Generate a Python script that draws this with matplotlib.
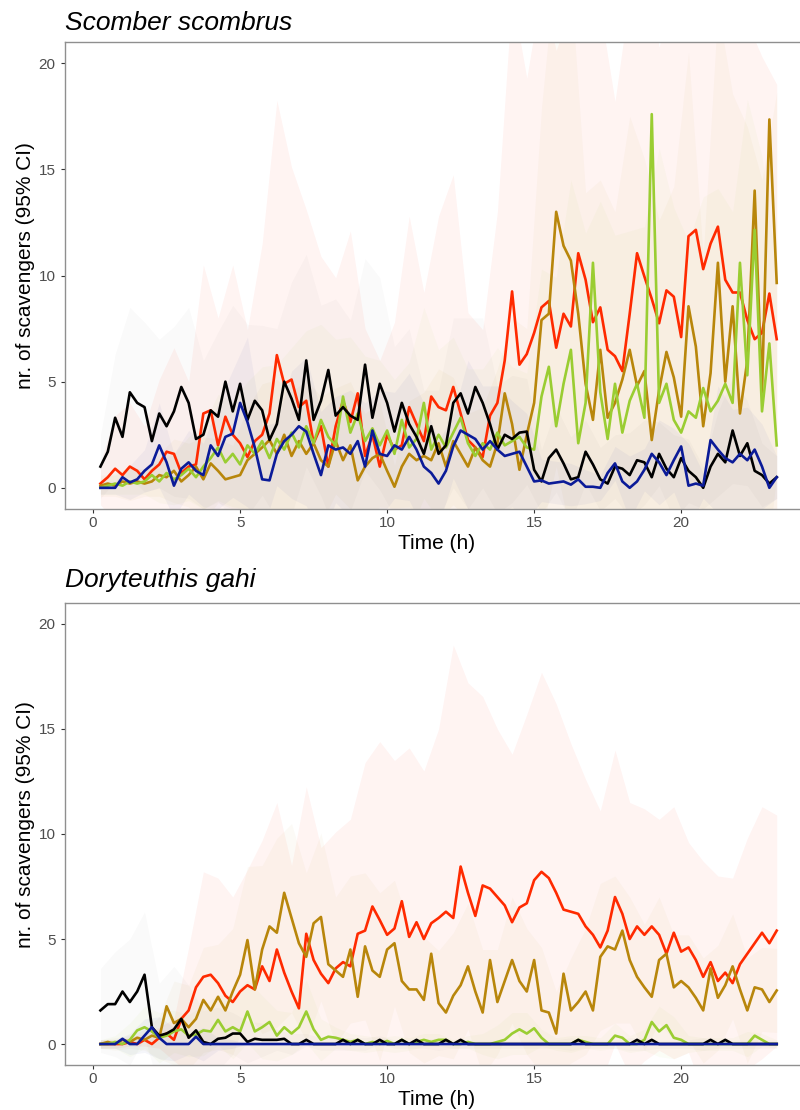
import numpy as np
import matplotlib
matplotlib.use("Agg")
import matplotlib.pyplot as plt

plt.rcParams['font.family'] = ['Liberation Sans', 'DejaVu Sans']

# sampling times (h), every 15 min
hours = np.arange(0.25, 23.3, 0.25)

# ---- Scomber scombrus: mean number of scavengers per group ----
mack_red = [0.2, 0.5, 0.9, 0.6, 1.0, 0.8, 0.4, 0.8,
            1.1, 1.7, 1.6, 0.7, 1.0, 1.1, 3.5, 3.65,
            2.0, 3.35, 2.5, 2.1, 1.45, 2.2, 2.5, 3.5,
            6.25, 4.9, 5.1, 3.8, 4.1, 2.1, 2.9, 1.0,
            2.9, 4.1, 3.1, 4.45, 1.5, 2.5, 1.0, 2.5,
            1.8, 2.0, 3.8, 3.0, 2.2, 4.3, 3.8, 3.65,
            4.75, 3.5, 2.25, 1.9, 1.45, 3.4, 4.0, 6.0,
            9.25, 5.8, 6.3, 7.3, 8.5, 8.8, 6.6, 8.2,
            7.6, 11.05, 9.8, 7.8, 8.5, 6.5, 6.2, 5.5,
            8.2, 11.05, 9.95, 8.9, 7.75, 9.3, 9.0, 7.1,
            11.85, 12.15, 10.3, 11.5, 12.3, 9.8, 9.2, 9.2,
            7.9, 7.0, 7.3, 9.15, 7.0]
mack_gold = [0.1, 0.2, 0.1, 0.3, 0.2, 0.3, 0.2, 0.3,
             0.6, 0.5, 0.8, 0.3, 0.6, 1.0, 0.4, 1.15,
             0.8, 0.4, 0.5, 0.6, 1.3, 1.6, 1.9, 2.25,
             1.6, 2.5, 1.5, 2.2, 1.6, 2.1, 1.3, 1.0,
             2.2, 1.3, 2.0, 0.35, 1.0, 1.4, 1.6, 0.8,
             0.05, 1.0, 1.6, 1.3, 1.5, 1.3, 2.1, 1.0,
             2.2, 1.6, 1.0, 1.9, 1.3, 1.0, 2.1, 4.45,
             3.0, 0.85, 2.5, 4.0, 7.9, 8.2, 13.0, 11.4,
             10.7, 8.2, 4.9, 3.2, 6.5, 3.3, 4.0, 5.1,
             6.5, 4.8, 5.5, 2.25, 4.6, 6.4, 5.2, 3.35,
             8.55, 6.65, 2.9, 5.4, 10.6, 5.0, 8.55, 3.5,
             6.0, 14.0, 4.5, 17.35, 9.65]
mack_green = [0.0, 0.1, 0.2, 0.1, 0.3, 0.2, 0.3, 0.6,
              0.3, 0.7, 0.4, 0.6, 0.9, 0.5, 1.0, 1.4,
              1.9, 1.2, 1.6, 1.1, 2.0, 1.6, 2.2, 1.4,
              2.3, 1.8, 2.6, 1.9, 2.9, 2.1, 3.2, 2.4,
              2.0, 4.3, 2.6, 3.5, 2.2, 2.8, 2.0, 2.7,
              1.6, 3.2, 1.9, 2.3, 4.0, 1.8, 2.5, 1.9,
              2.6, 3.3, 2.1, 1.5, 2.1, 1.8, 2.6, 2.0,
              2.2, 2.4, 1.9, 1.8, 4.3, 5.7, 2.9, 4.9,
              6.5, 2.1, 4.0, 10.6, 4.5, 2.3, 4.9, 2.6,
              4.1, 4.9, 3.3, 17.6, 4.0, 4.9, 3.2, 2.6,
              3.6, 3.3, 4.7, 3.6, 4.1, 4.9, 4.0, 10.6,
              5.3, 12.15, 3.6, 6.8, 2.0]
mack_black = [1.0, 1.7, 3.3, 2.4, 4.5, 4.0, 3.8, 2.2,
              3.5, 2.9, 3.6, 4.75, 4.0, 2.3, 2.5, 3.65,
              3.35, 5.0, 3.6, 4.9, 3.2, 4.1, 3.65, 2.25,
              3.0, 5.0, 4.2, 3.2, 6.0, 3.2, 4.1, 5.55,
              3.4, 3.8, 3.4, 3.2, 5.8, 3.3, 4.9, 4.0,
              2.65, 4.0, 3.0, 2.4, 1.6, 2.9, 1.6, 2.0,
              4.0, 4.45, 3.5, 4.75, 4.0, 3.0, 1.8, 2.5,
              2.3, 2.6, 2.65, 0.85, 0.3, 1.4, 1.8, 1.15,
              0.4, 0.5, 1.7, 1.1, 0.4, 0.2, 1.0, 0.9,
              0.6, 1.3, 1.2, 0.5, 1.6, 0.9, 0.5, 1.4,
              0.8, 0.5, 0.0, 1.0, 1.6, 1.2, 2.7, 1.5,
              2.1, 0.8, 0.6, 0.2, 0.5]
mack_blue = [0.0, 0.0, 0.0, 0.5, 0.25, 0.4, 0.8, 1.1,
             2.0, 1.2, 0.1, 0.9, 1.2, 0.8, 0.6, 2.0,
             1.5, 2.4, 2.55, 4.0, 3.1, 1.9, 0.4, 0.35,
             1.6, 2.2, 2.5, 2.9, 2.65, 1.6, 0.6, 2.0,
             1.8, 1.9, 1.6, 2.2, 1.0, 2.7, 1.6, 1.5,
             2.0, 1.8, 2.4, 1.8, 1.0, 0.7, 0.2, 0.8,
             1.95, 2.7, 2.5, 2.3, 1.8, 2.2, 1.8, 1.5,
             1.6, 1.7, 1.0, 0.3, 0.35, 0.2, 0.25, 0.3,
             0.15, 0.4, 0.05, 0.05, 0.0, 0.7, 1.15, 0.3,
             0.0, 0.3, 0.85, 1.6, 1.2, 0.6, 1.3, 1.95,
             0.1, 0.2, 0.1, 2.25, 1.8, 1.4, 1.2, 1.6,
             1.3, 1.8, 1.0, 0.0, 0.5]

# 95% CI half widths, every 30 min
mack_red_ci = [1.0, 2.5, 3.0, 2.5, 4.0, 5.0, 4.0, 7.0,
               6.0, 8.0, 6.0, 9.0, 12.0, 10.0, 9.0, 8.0,
               7.0, 9.0, 6.0, 5.0, 6.0, 9.0, 7.0, 9.0,
               10.0, 6.0, 6.0, 9.0, 14.0, 13.0, 15.0, 14.0,
               15.0, 16.0, 14.0, 12.0, 15.0, 16.0, 13.0, 15.0,
               17.0, 16.0, 17.0, 15.0, 14.0, 13.0, 12.0]
mack_gold_ci = [0.5, 0.5, 0.8, 0.6, 1.0, 1.5, 1.5, 2.0,
                1.5, 1.5, 2.5, 3.0, 3.5, 3.0, 3.5, 3.0,
                2.5, 3.0, 2.5, 2.5, 1.0, 2.5, 3.0, 3.5,
                3.0, 2.5, 2.5, 3.5, 5.0, 5.0, 10.0, 12.0,
                13.0, 9.0, 8.0, 9.0, 11.0, 10.0, 8.0, 9.0,
                12.0, 8.0, 12.0, 10.0, 11.0, 10.0, 9.0]
mack_green_ci = [0.3, 0.5, 0.6, 0.6, 1.0, 1.2, 1.5, 2.0,
                 2.5, 2.5, 3.0, 3.5, 3.5, 4.0, 4.5, 4.5,
                 5.0, 4.5, 4.0, 4.0, 3.5, 4.0, 4.5, 4.0,
                 4.5, 3.5, 3.5, 4.0, 3.5, 3.5, 6.0, 7.0,
                 8.0, 8.0, 9.0, 7.0, 8.0, 9.0, 12.0, 10.0,
                 8.0, 9.0, 10.0, 9.0, 13.0, 12.0, 8.0]
mack_black_ci = [1.5, 3.0, 4.0, 4.0, 3.5, 4.0, 4.5, 3.5,
                 4.0, 5.0, 4.5, 4.0, 4.5, 5.5, 5.0, 4.5,
                 5.5, 4.5, 5.0, 5.0, 4.0, 4.5, 3.0, 3.0,
                 4.0, 4.5, 4.0, 3.0, 3.0, 2.5, 1.5, 2.0,
                 2.0, 1.5, 1.5, 1.5, 2.0, 2.0, 1.5, 2.0,
                 1.5, 1.0, 2.0, 2.5, 2.0, 1.5, 1.0]
mack_blue_ci = [0.3, 0.3, 0.8, 1.0, 2.0, 1.5, 1.5, 1.5,
                2.5, 3.0, 4.0, 2.5, 1.5, 3.0, 3.5, 3.0,
                2.5, 3.0, 3.0, 3.0, 2.5, 3.0, 3.0, 2.0,
                1.5, 3.5, 3.0, 3.0, 2.5, 2.5, 1.0, 1.0,
                1.0, 0.8, 0.6, 0.8, 1.5, 1.0, 2.0, 1.5,
                2.0, 0.6, 3.0, 2.5, 2.5, 2.0, 1.0]

# ---- Doryteuthis gahi ----
squid_red = [0.0, 0.0, 0.0, 0.0, 0.1, 0.0, 0.2, 0.0,
             0.3, 0.5, 0.2, 1.2, 1.6, 2.7, 3.2, 3.3,
             2.9, 2.3, 2.0, 2.5, 2.8, 2.6, 3.7, 3.0,
             4.5, 3.4, 2.5, 1.7, 5.25, 4.0, 3.35, 2.9,
             3.6, 3.9, 3.7, 5.25, 5.4, 6.55, 5.9, 5.2,
             5.5, 6.8, 5.1, 5.8, 5.0, 5.75, 6.0, 6.3,
             6.0, 8.45, 7.2, 6.1, 7.55, 7.4, 7.0, 6.6,
             5.8, 6.5, 6.7, 7.8, 8.2, 7.9, 7.2, 6.4,
             6.3, 6.2, 5.6, 5.2, 4.6, 5.4, 7.0, 6.2,
             5.0, 5.6, 5.2, 5.6, 5.2, 4.3, 5.3, 4.4,
             4.6, 4.0, 3.2, 3.9, 3.0, 3.4, 2.9, 3.8,
             4.3, 4.8, 5.3, 4.8, 5.4]
squid_gold = [0.0, 0.1, 0.0, 0.2, 0.1, 0.3, 0.2, 0.4,
              0.3, 1.8, 1.0, 1.2, 0.8, 1.2, 2.1, 1.6,
              2.25, 1.6, 2.5, 3.3, 4.95, 2.6, 4.5, 5.6,
              5.3, 7.2, 6.0, 4.8, 4.15, 5.75, 6.05, 3.8,
              3.5, 3.2, 4.5, 2.25, 4.65, 3.5, 3.2, 4.5,
              4.8, 3.0, 2.6, 2.6, 2.1, 4.3, 1.95, 1.5,
              2.3, 2.8, 3.7, 2.5, 1.5, 4.0, 2.0, 3.0,
              4.0, 3.0, 2.5, 4.0, 1.6, 1.5, 0.5, 3.35,
              1.6, 2.0, 2.5, 1.6, 4.15, 4.65, 4.5, 5.4,
              4.0, 3.2, 2.7, 2.25, 4.0, 4.3, 2.7, 3.0,
              2.7, 2.2, 1.6, 3.6, 2.2, 2.8, 3.7, 2.6,
              1.6, 2.7, 2.6, 2.0, 2.55]
squid_green = [0.0, 0.0, 0.1, 0.0, 0.2, 0.65, 0.8, 0.6,
               0.3, 0.4, 0.6, 0.7, 0.4, 0.45, 0.65, 0.6,
               1.15, 0.6, 0.8, 0.6, 1.55, 0.6, 0.8, 1.05,
               0.4, 0.8, 0.5, 0.8, 1.55, 0.7, 0.2, 0.35,
               0.3, 0.2, 0.1, 0.2, 0.0, 0.1, 0.0, 0.15,
               0.0, 0.2, 0.0, 0.1, 0.2, 0.1, 0.2, 0.2,
               0.0, 0.0, 0.1, 0.0, 0.0, 0.0, 0.1, 0.2,
               0.5, 0.7, 0.5, 0.75, 0.3, 0.0, 0.0, 0.0,
               0.0, 0.2, 0.1, 0.0, 0.0, 0.0, 0.4, 0.3,
               0.0, 0.0, 0.2, 1.05, 0.6, 0.9, 0.3, 0.2,
               0.0, 0.0, 0.0, 0.0, 0.0, 0.0, 0.0, 0.0,
               0.0, 0.4, 0.2, 0.0, 0.0]
squid_black = [1.6, 1.9, 1.9, 2.5, 2.0, 2.5, 3.3, 0.8,
               0.4, 0.5, 0.7, 1.2, 0.3, 0.65, 0.1, 0.0,
               0.25, 0.3, 0.5, 0.5, 0.1, 0.25, 0.2, 0.2,
               0.2, 0.25, 0.0, 0.0, 0.2, 0.0, 0.0, 0.0,
               0.0, 0.2, 0.0, 0.2, 0.0, 0.0, 0.2, 0.0,
               0.0, 0.2, 0.0, 0.2, 0.0, 0.0, 0.0, 0.2,
               0.0, 0.2, 0.0, 0.0, 0.0, 0.0, 0.0, 0.0,
               0.0, 0.0, 0.0, 0.0, 0.0, 0.0, 0.0, 0.0,
               0.0, 0.2, 0.0, 0.0, 0.0, 0.0, 0.0, 0.0,
               0.0, 0.2, 0.0, 0.2, 0.0, 0.0, 0.0, 0.0,
               0.0, 0.0, 0.0, 0.2, 0.0, 0.2, 0.0, 0.0,
               0.0, 0.0, 0.0, 0.0, 0.0]
squid_blue = [0.0, 0.0, 0.0, 0.25, 0.0, 0.0, 0.4, 0.8,
              0.3, 0.0, 0.0, 0.0, 0.0, 0.35, 0.0, 0.0] + [0.0] * 77

squid_red_ci = [0.2, 0.2, 0.2, 0.3, 0.5, 1.0, 3.0, 5.0,
                5.0, 5.0, 5.5, 6.0, 7.0, 6.0, 7.0, 6.0,
                6.5, 7.0, 8.0, 8.5, 8.0, 9.0, 8.0, 9.0,
                13.0, 10.0, 9.0, 8.0, 8.0, 9.0, 9.5, 9.0,
                8.0, 7.0, 6.5, 7.0, 6.5, 6.0, 5.5, 6.0,
                5.0, 5.5, 5.0, 5.0, 5.5, 6.0, 5.5]
squid_gold_ci = [0.2, 0.3, 0.3, 0.5, 1.0, 2.0, 2.0, 2.5,
                 2.5, 3.0, 3.5, 4.0, 4.5, 4.5, 4.0, 4.0,
                 3.5, 3.5, 3.5, 4.0, 3.0, 3.0, 3.0, 2.5,
                 3.0, 3.0, 3.0, 2.5, 3.0, 3.0, 3.0, 2.0,
                 2.5, 3.0, 3.5, 3.5, 3.0, 3.0, 3.0, 2.5,
                 2.5, 2.5, 2.5, 2.5, 2.5, 2.0, 2.0]
squid_green_ci = [0.2, 0.3, 0.8, 1.0, 1.2, 1.0, 1.0, 1.2,
                  1.2, 1.5, 1.5, 1.5, 1.2, 1.0, 1.5, 1.0,
                  0.5, 0.4, 0.4, 0.3, 0.4, 0.3, 0.3, 0.3,
                  0.2, 0.3, 0.5, 0.8, 1.0, 1.0, 0.4, 0.3,
                  0.4, 0.3, 0.3, 0.6, 0.4, 0.5, 1.2, 1.0,
                  0.4, 0.3, 0.3, 0.3, 0.6, 0.3, 0.2]
squid_black_ci = [2.0, 2.5, 3.0, 3.0, 2.5, 3.0, 2.5, 1.5,
                  1.5, 1.0, 1.0, 0.8, 0.5, 0.5, 0.3, 0.3,
                  0.3, 0.3, 0.3, 0.2, 0.2, 0.2, 0.2, 0.3,
                  0.2, 0.2, 0.2, 0.2, 0.2, 0.2, 0.2, 0.2,
                  0.3, 0.2, 0.2, 0.2, 0.3, 0.3, 0.2, 0.2,
                  0.2, 0.3, 0.2, 0.2, 0.2, 0.2, 0.2]
squid_blue_ci = [0.2, 0.2, 0.5, 0.8, 1.0, 0.8, 0.5, 0.8,
                 0.3, 0.2] + [0.0] * 37

colors = ['#ff2a00', '#b8860b', '#9acd32', '#000000', '#0b1b98']
# ribbon opacity per group (grey/black ribbon kept lighter)
ribbon_alpha = [0.05, 0.035, 0.04, 0.02, 0.04]


def draw_panel(ax, means, cis):
    t_ci = hours[::2]
    for m, hw, c, a in zip(means, cis, colors, ribbon_alpha):
        m = np.asarray(m)[::2]
        hw = np.asarray(hw)
        ax.fill_between(t_ci, m - hw, m + hw, color=c, alpha=a, lw=0, zorder=1)
    for m, c in zip(means, colors):
        ax.plot(hours, m, color=c, lw=1.9, zorder=3)

    ax.set_xlim(-0.955, 24.45)
    ax.set_ylim(-1, 21)
    ax.set_xticks([0, 5, 10, 15, 20])
    ax.set_yticks([0, 5, 10, 15, 20])
    ax.tick_params(length=3.2, width=0.8, color='#333333', labelsize=11,
                   labelcolor='#4d4d4d')
    ax.tick_params(axis='x', pad=1.6)
    ax.tick_params(axis='y', pad=3.5)
    for s in ax.spines.values():
        s.set_color('#8f8f8f')
        s.set_linewidth(1.0)


def main():
    fig = plt.figure(figsize=(8, 11.1), dpi=100)
    ax1 = fig.add_axes([0.08125, 0.5414, 0.93375, 0.4208])
    ax2 = fig.add_axes([0.08125, 0.0405, 0.93375, 0.4163])

    draw_panel(ax1, [mack_red, mack_gold, mack_green, mack_black, mack_blue],
               [mack_red_ci, mack_gold_ci, mack_green_ci, mack_black_ci, mack_blue_ci])
    draw_panel(ax2, [squid_red, squid_gold, squid_green, squid_black, squid_blue],
               [squid_red_ci, squid_gold_ci, squid_green_ci, squid_black_ci, squid_blue_ci])

    fig.text(65 / 800, 1 - 30 / 1110, "Scomber scombrus", fontsize=19,
             fontstyle='italic', va='baseline', ha='left')
    fig.text(65 / 800, 1 - 587 / 1110, "Doryteuthis gahi", fontsize=19,
             fontstyle='italic', va='baseline', ha='left')

    for yc, yb in [(266, 549), (825, 1105)]:
        fig.text(26 / 800, 1 - yc / 1110, "nr. of scavengers (95% CI)", fontsize=15,
                 rotation=90, va='center', ha='center')
        fig.text(437 / 800, 1 - yb / 1110, "Time (h)", fontsize=15,
                 va='baseline', ha='center')

    fig.savefig("out.png", dpi=100)


if __name__ == "__main__":
    main()
